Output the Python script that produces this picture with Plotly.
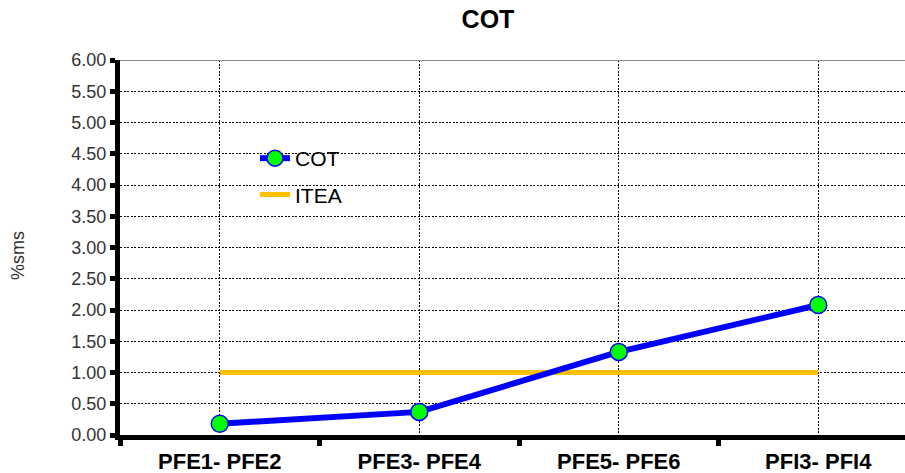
import plotly.graph_objects as go

categories = ["PFE1- PFE2", "PFE3- PFE4", "PFE5- PFE6", "PFI3- PFI4"]
cot_values = [0.18, 0.37, 1.33, 2.08]
itea_values = [1.00, 1.00, 1.00, 1.00]
y_ticks = [0, 0.5, 1, 1.5, 2, 2.5, 3, 3.5, 4, 4.5, 5, 5.5, 6]

xpos = list(range(len(categories)))
FONT = "Liberation Sans, Arial, sans-serif"

fig = go.Figure()
fig.add_trace(go.Scatter(
    x=xpos, y=itea_values, name="ITEA", mode="lines",
    line=dict(color="#FFC000", width=5), legendgroup="b", legendrank=2))
fig.add_trace(go.Scatter(
    x=xpos, y=cot_values, name="COT", mode="lines+markers",
    line=dict(color="#0000FF", width=6),
    marker=dict(color="#00FF00", size=17, line=dict(color="#0000FF", width=1.5)),
    legendgroup="a", legendrank=1))

fig.update_layout(
    width=905, height=473,
    margin=dict(l=120, r=0, t=60, b=38),
    paper_bgcolor="white", plot_bgcolor="white",
    font=dict(family=FONT, color="black"),
    title=dict(text="<b>COT</b>", x=488/905, xanchor="center", y=1 - 19/473, yanchor="middle",
               font=dict(size=25, family=FONT, color="black")),
    showlegend=True,
    legend=dict(x=(255 - 120) / 785, y=(435 - 138) / 375, xanchor="left", yanchor="top",
                bgcolor="rgba(0,0,0,0)", font=dict(size=21, family=FONT, color="black"),
                traceorder="grouped", tracegroupgap=6),
)

fig.update_xaxes(
    range=[-0.5, -0.5 + 785 / 199.5],
    tickvals=xpos, ticktext=[f"<b>{c}</b>" for c in categories],
    tickfont=dict(size=22, family=FONT, color="black"),
    ticks="", ticklabelstandoff=3,
    showgrid=True, gridcolor="black", gridwidth=1, griddash="2px,1.5px",
    showline=True, linecolor="black", linewidth=5, zeroline=False,
    minor=dict(tickvals=[-0.5, 0.5, 1.5, 2.5, 3.5], ticks="outside", ticklen=6,
               tickwidth=5, tickcolor="black", showgrid=False),
)
fig.update_yaxes(
    range=[0, 6], tickvals=y_ticks, tickformat=".2f",
    tickfont=dict(size=18, family=FONT, color="#333333"),
    ticks="outside", ticklen=5, tickwidth=5, tickcolor="black",
    showgrid=True, gridcolor="black", gridwidth=1, griddash="2px,1.5px",
    showline=True, linecolor="black", linewidth=5, zeroline=False,
)

fig.add_shape(type="line", xref="paper", yref="y", x0=0, x1=1, y0=6, y1=6,
              line=dict(color="#888888", width=2), layer="above")

fig.add_annotation(text="%sms", xref="paper", yref="paper",
                   x=-(120 - 18) / 785, y=(435 - 256) / 375, showarrow=False,
                   textangle=-90, font=dict(size=18, family=FONT, color="#333333"),
                   xanchor="center", yanchor="middle")

fig.write_html("out.html")
